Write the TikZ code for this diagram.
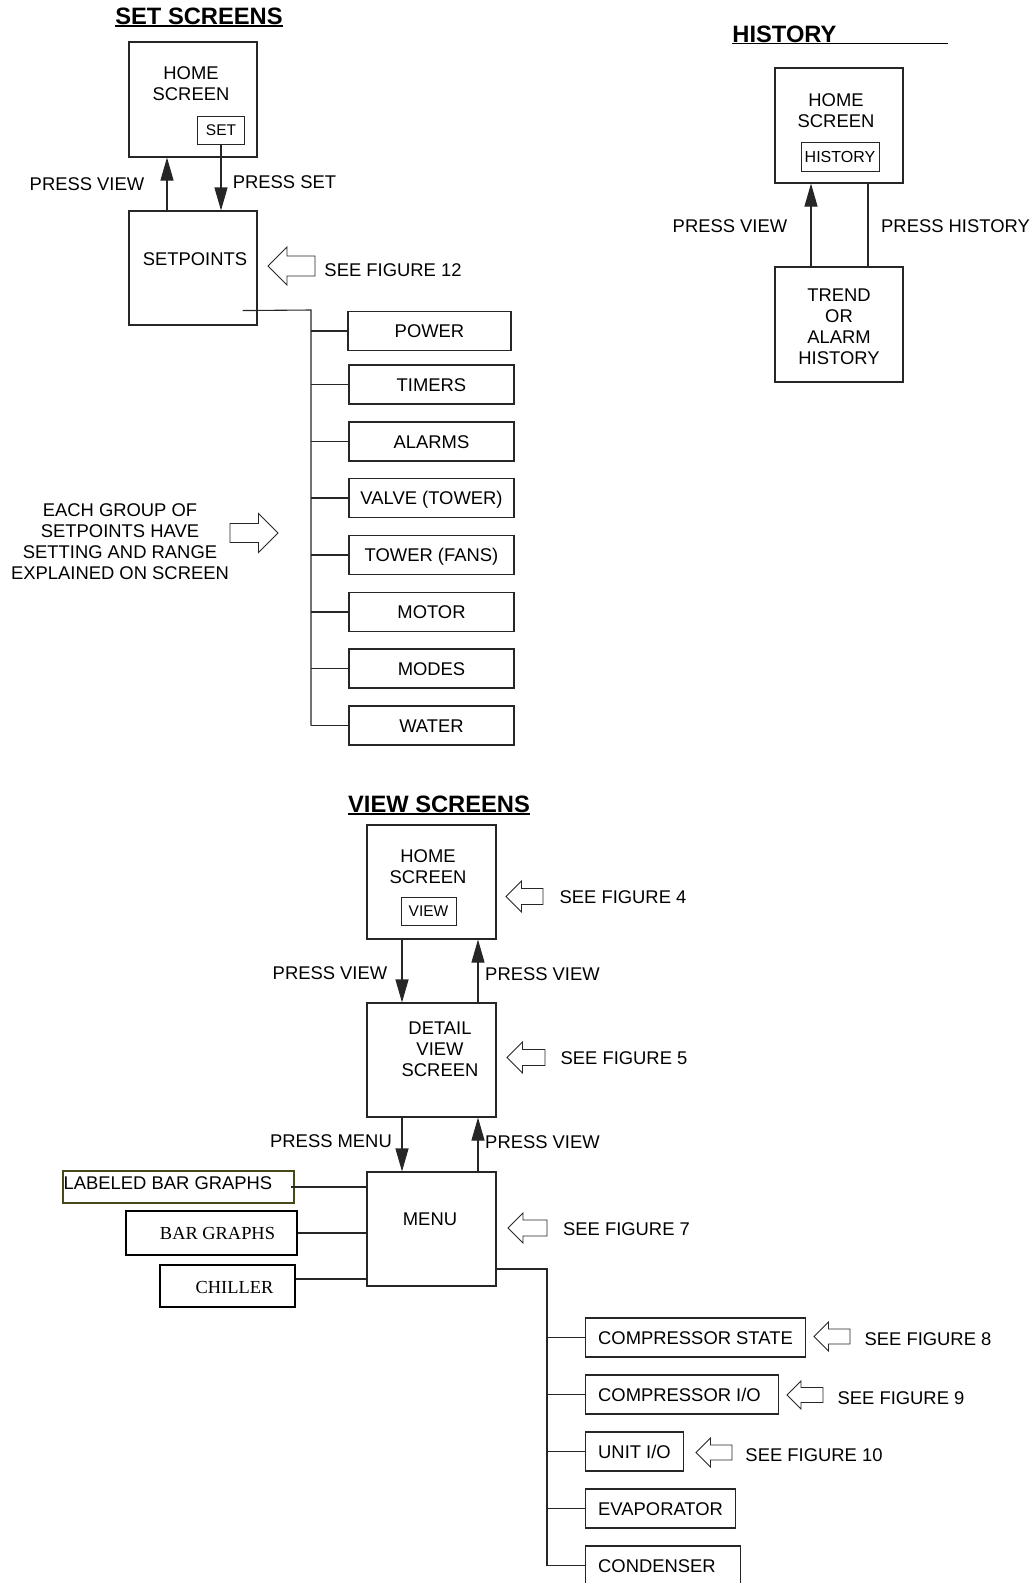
\documentclass[tikz,border=0pt]{standalone}
\usepackage{fontspec}
\setmainfont{Liberation Sans}
\newfontfamily\timesfont{Liberation Serif}
\usetikzlibrary{arrows.meta,calc}

\definecolor{olivebox}{RGB}{72,72,24}

\newcommand{\seearrow}[6]{%
	\draw[line width=0.9pt, black!85] (#1,#2) -- ++(#3*#5,#5) -- ++(0,-#5+#6) -- ++({#3*(#4-#5)},0)
		-- ++(0,-2*#6) -- ++({-#3*(#4-#5)},0) -- ++(0,-#5+#6) -- cycle;}

\begin{document}
\begin{tikzpicture}[x=1pt, y=-1pt,
	every node/.style = {inner sep=0pt, font=\fontsize{18.4}{21}\selectfont},
	lbl/.style = {text height=13.2pt, text depth=0pt},
	stack/.style = {align=center},
	heading/.style = {font=\fontsize{23.7}{28}\selectfont\bfseries, text height=17pt, text depth=0pt},
	screenbox/.style = {draw=black!85, line width=1.1pt, minimum width=128pt, minimum height=115pt},
	btn/.style = {draw=black!85, line width=1pt, font=\fontsize{15.5}{18}\selectfont, text height=11.1pt, text depth=0pt},
	entry/.style = {draw=black!85, line width=1.1pt, minimum width=165pt, minimum height=39pt, text height=13.2pt, text depth=0pt},
	rbox/.style = {draw=black!85, line width=1.1pt, minimum height=39pt, anchor=west},
	serifbox/.style = {draw=black, line width=1.8pt},
	serif/.style = {font=\fontsize{18.4}{21}\timesfont, text height=12.2pt, text depth=0pt},
	wire/.style = {draw=black!85, line width=1.1pt},
	goto/.style = {wire, -{Triangle[length=23pt, width=13pt]}}]
	\useasboundingbox (0,0) rectangle (1036,1583);

	\node [heading] (settitle) at (199,15.5) {SET SCREENS};
	\draw [line width=1.8pt] ([yshift=-1.5pt]settitle.south west) -- ([yshift=-1.5pt]settitle.south east);
	\node [screenbox] (home) at (193,99.5) {};
	\node [stack] (hometext) at (191,83.5) {HOME\\SCREEN};
	\node [btn, minimum width=47pt, minimum height=28pt] (setbtn) at (221,130) {SET};
	\node [screenbox, minimum height=114pt] (setp) at (193,268) {};
	\node [lbl] (setptext) at (195,259) {SETPOINTS};
	\draw [goto] ([xshift=-26pt]setp.north) -- ([xshift=-26pt]home.south);
	\draw [goto] (setbtn.south) -- (setbtn.south |- setp.north);
	\node [lbl] (pview1) at (87,184) {PRESS VIEW};
	\node [lbl] (pset) at (284.5,182) {PRESS SET};
	\seearrow{268}{266}{1}{47}{19}{10}
	\node [lbl] (fig12) at (393,270) {SEE FIGURE 12};

	\node [entry, line width=1.8pt, minimum width=163pt] (power) at (429.5,331) {POWER};
	\node [entry] (timers) at (431.5,384.5) {TIMERS};
	\node [entry] (alarms) at (431.5,441.5) {ALARMS};
	\node [entry] (valve) at (431.5,498) {VALVE (TOWER)};
	\node [entry] (tower) at (431.5,555) {TOWER (FANS)};
	\node [entry] (motor) at (431.5,612) {MOTOR};
	\node [entry] (modes) at (431.5,668.5) {MODES};
	\node [entry] (water) at (431.5,725.5) {WATER};
	\coordinate (bus1) at (311,310);
	\draw [wire] ([xshift=-15pt,yshift=15pt]setp.south east) -- (bus1) -- (bus1 |- water.west);
	\draw [wire] (bus1 |- power.west) -- (power.west);
	\draw [wire] (bus1 |- timers.west) -- (timers.west);
	\draw [wire] (bus1 |- alarms.west) -- (alarms.west);
	\draw [wire] (bus1 |- valve.west) -- (valve.west);
	\draw [wire] (bus1 |- tower.west) -- (tower.west);
	\draw [wire] (bus1 |- motor.west) -- (motor.west);
	\draw [wire] (bus1 |- modes.west) -- (modes.west);
	\draw [wire] (bus1 |- water.west) -- (water.west);
	\node [stack] (groupnote) at (120,541.5) {EACH GROUP OF\\SETPOINTS HAVE\\SETTING AND RANGE\\EXPLAINED ON SCREEN};
	\seearrow{278}{533}{-1}{48}{19.5}{9.5}

	\node [heading] (histtitle) at (784.5,33.5) {HISTORY};
	\draw [line width=1.3pt] ([yshift=-1.5pt]histtitle.south west) -- ++(216,0);
	\node [screenbox] (home2) at (839,125.5) {};
	\node [stack] (home2text) at (836,110.5) {HOME\\SCREEN};
	\node [btn, minimum width=78pt, minimum height=29pt, font=\fontsize{16}{19}\selectfont, text height=11.5pt] (histbtn) at (840,156.5) {HISTORY};
	\node [screenbox] (trend) at (839,324.5) {};
	\node [stack] (trendtext) at (839,327) {TREND\\OR\\ALARM\\HISTORY};
	\draw [goto] ([xshift=-28pt]trend.north) -- ([xshift=-28pt]home2.south);
	\draw [wire] ([xshift=29pt]home2.south) -- ([xshift=29pt]trend.north);
	\node [lbl] (pview2) at (730,226) {PRESS VIEW};
	\node [lbl] (phist) at (955.5,226) {PRESS HISTORY};

	\node [heading] (viewtitle) at (439,803.5) {VIEW SCREENS};
	\draw [line width=1.8pt] ([yshift=-1.5pt]viewtitle.south west) -- ([yshift=-1.5pt]viewtitle.south east);
	\node [screenbox, minimum width=129pt, minimum height=114pt] (home3) at (431.5,882) {};
	\node [stack] (home3text) at (428,867) {HOME\\SCREEN};
	\node [btn, minimum width=55pt, minimum height=28pt] (viewbtn) at (428.5,911) {VIEW};
	\seearrow{506}{896.5}{1}{37}{15.5}{8}
	\node [lbl] (fig4) at (623,897) {SEE FIGURE 4};
	\node [screenbox, minimum width=129pt, minimum height=114pt] (detail) at (431.5,1060) {};
	\node [stack] (detailtext) at (440,1049) {DETAIL\\VIEW\\SCREEN};
	\draw [goto] ([xshift=-29.5pt]home3.south) -- ([xshift=-29.5pt]detail.north);
	\draw [goto] ([xshift=46.5pt]detail.north) -- ([xshift=46.5pt]home3.south);
	\node [lbl] (pview3) at (330,973) {PRESS VIEW};
	\node [lbl] (pview4) at (542.5,974) {PRESS VIEW};
	\seearrow{507}{1057.5}{1}{38}{15.5}{8}
	\node [lbl] (fig5) at (624,1058) {SEE FIGURE 5};
	\node [screenbox, minimum width=129pt, minimum height=114pt] (menu) at (431.5,1229) {};
	\node [lbl] (menutext) at (430,1219) {MENU};
	\draw [goto] ([xshift=-29.5pt]detail.south) -- ([xshift=-29.5pt]menu.north);
	\draw [goto] ([xshift=46.5pt]menu.north) -- ([xshift=46.5pt]detail.south);
	\node [lbl] (pmenu) at (331,1141) {PRESS MENU};
	\node [lbl] (pview5) at (542.5,1142) {PRESS VIEW};
	\seearrow{508}{1228}{1}{39}{15}{8}
	\node [lbl] (fig7) at (626.5,1229) {SEE FIGURE 7};

	\node [draw=olivebox, line width=1.1pt, minimum width=231pt, minimum height=32pt] (lbg) at (178.5,1187) {};
	\node [lbl, anchor=west] (lbgtext) at ([xshift=1pt,yshift=4pt]lbg.west) {LABELED BAR GRAPHS};
	\node [serifbox, minimum width=171pt, minimum height=44pt] (bars) at (211.5,1233) {};
	\node [serif] (barstext) at (217.5,1233) {BAR GRAPHS};
	\node [serifbox, minimum width=135pt, minimum height=42pt] (chiller) at (227.5,1286) {};
	\node [serif] (chillertext) at (234.5,1287) {CHILLER};
	\draw [wire, line width=1.5pt] ([xshift=-4pt]lbg.east) -- (lbg.east -| menu.west);
	\draw [wire, line width=1.5pt] (bars.east) -- (bars.east -| menu.west);
	\draw [wire, line width=1.5pt] ($(chiller.east)+(0,-7)$) -- ($(chiller.east -| menu.west)+(0,-7)$);

	\node [rbox, minimum width=220pt] (cstate) at (585,1337.5) {};
	\node [lbl, anchor=west] (cstatetext) at ([xshift=13pt]cstate.west) {COMPRESSOR STATE};
	\node [rbox, minimum width=193pt] (cio) at (585,1394.5) {};
	\node [lbl, anchor=west] (ciotext) at ([xshift=13pt]cio.west) {COMPRESSOR I/O};
	\node [rbox, minimum width=98pt] (unitio) at (585,1451.5) {};
	\node [lbl, anchor=west] (unitiotext) at ([xshift=13pt]unitio.west) {UNIT I/O};
	\node [rbox, minimum width=150pt] (evap) at (585,1508.5) {};
	\node [lbl, anchor=west] (evaptext) at ([xshift=13pt]evap.west) {EVAPORATOR};
	\node [rbox, minimum width=155pt] (cond) at (585,1565.5) {};
	\node [lbl, anchor=west] (condtext) at ([xshift=13pt]cond.west) {CONDENSER};
	\coordinate (bus2) at (547,1269);
	\draw [wire] ([yshift=-40pt]menu.east) -- (bus2) -- (bus2 |- cond.west);
	\draw [wire] (bus2 |- cstate.west) -- (cstate.west);
	\draw [wire] (bus2 |- cio.west) -- (cio.west);
	\draw [wire] (bus2 |- unitio.west) -- (unitio.west);
	\draw [wire] (bus2 |- evap.west) -- (evap.west);
	\draw [wire] (bus2 |- cond.west) -- (cond.west);
	\seearrow{814}{1336.5}{1}{36}{14.5}{7.5}
	\node [lbl] (fig8) at (928,1339) {SEE FIGURE 8};
	\seearrow{787}{1395}{1}{36}{14}{7.5}
	\node [lbl] (fig9) at (901,1398) {SEE FIGURE 9};
	\seearrow{696}{1452.5}{1}{36}{14.5}{7.5}
	\node [lbl] (fig10) at (814,1455) {SEE FIGURE 10};
\end{tikzpicture}
\end{document}
